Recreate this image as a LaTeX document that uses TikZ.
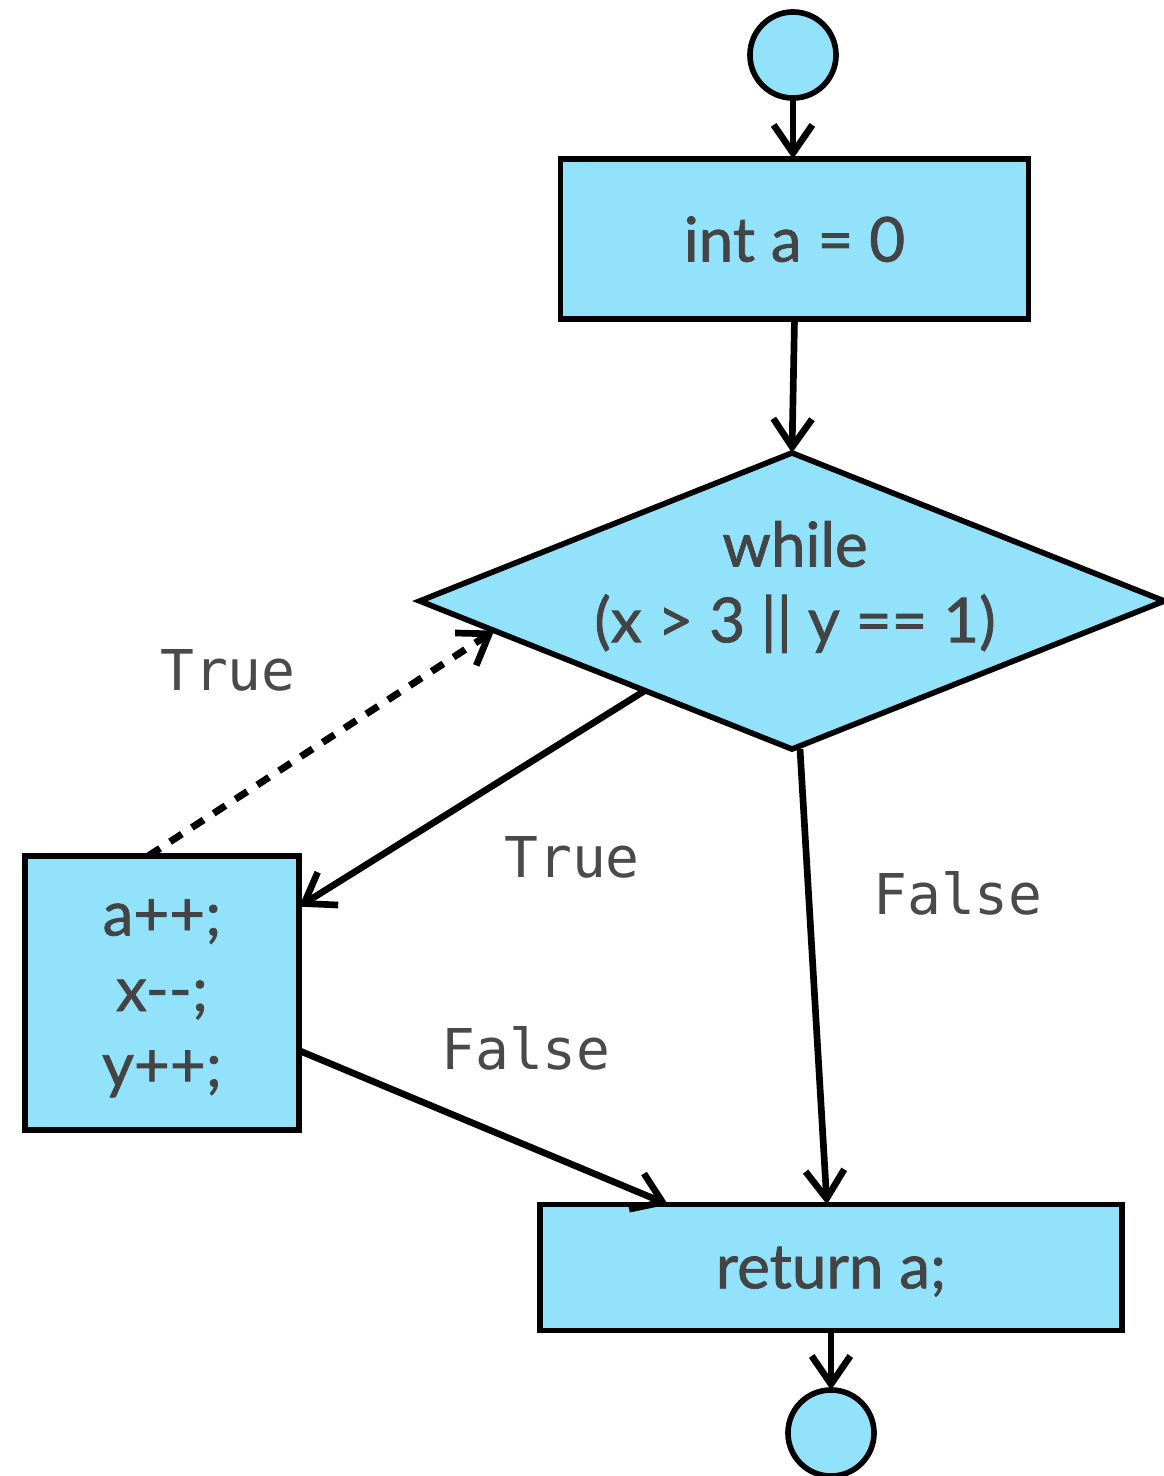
\documentclass[tikz,border=0pt]{standalone}
\usepackage{fontspec}
\setmainfont{Lato}
\setmonofont{DejaVu Sans Mono}
\newfontfamily\codefont{Lato}[FakeBold=1.2]
\usetikzlibrary{arrows.meta,shapes.geometric,calc}
\definecolor{boxfill}{HTML}{93E2FB}
\definecolor{ink}{HTML}{444444}
\definecolor{labelgray}{HTML}{4A4A4A}
\begin{document}
\begin{tikzpicture}[x=0.01cm,y=-0.01cm,
  every node/.style={inner sep=0pt,outer sep=0pt},
  code/.style={text=ink,font=\codefont\fontsize{17.6}{21.5}\selectfont,align=center},
  block/.style={draw=black,line width=1.6pt,fill=boxfill,rectangle,code,text depth=0pt},
  decision/.style={draw=black,line width=1.6pt,fill=boxfill,diamond,inner sep=0pt},
  terminal/.style={draw=black,line width=1.6pt,fill=boxfill,circle,minimum size=0.86cm},
  edgelabel/.style={text=labelgray,font=\ttfamily\fontsize{16}{18}\selectfont},
  flow/.style={line width=1.9pt,-{Straight Barb[length=8pt,width=11pt]}},
  loopback/.style={line width=2pt,dash pattern=on 0.14cm off 0.12cm,
    -{Straight Barb[length=8pt,width=11pt,line width=1.9pt]}},
]
\useasboundingbox (0,0) rectangle (1163,1476);
\fill[white] (0,0) rectangle (1163,1476);

% nodes
\node[terminal] (start) at (793,55) {};
\node[block,minimum width=4.68cm,minimum height=1.6cm] (init) at (794.5,239) {int a = 0};
\node[decision,minimum width=7.44cm,minimum height=2.96cm] (cond) at (792,601) {};
\node[code] (condtext) at (795,587) {while\\(x > 3 || y == 1)};
\node[block,minimum width=2.74cm,minimum height=2.74cm] (body) at (162,993) {a++;\\x-{}-;\\y++;};
\node[block,minimum width=5.82cm,minimum height=1.26cm] (ret) at (831,1267.5) {return a;};
\node[terminal] (stop) at (831,1433) {};

% edge labels
\node[edgelabel] (ltrue1) at (228,670) {True};
\node[edgelabel] (ltrue2) at (572,857) {True};
\node[edgelabel] (lfalse1) at (958,893) {False};
\node[edgelabel] (lfalse2) at (526,1048) {False};

% connectors
\draw[flow] (start.south) -- (start.south |- init.north);
\draw[flow] (init.south) -- (cond.north);
\draw[flow] ($(cond.west)!0.605!(cond.south)$) -- ($(body.north east)!0.185!(body.south east)$);
\draw[loopback] ($(body.north west)!0.45!(body.north east)$) -- ($(cond.west)!0.2!(cond.south)$);
\draw[flow] ($(body.north east)!0.71!(body.south east)$) -- ($(ret.north west)!0.22!(ret.north east)$);
\draw[flow] ($(cond.south)+(8,0)$) -- ($(ret.north west)!0.493!(ret.north east)$);
\draw[flow] (ret.south) -- (stop.north);
\end{tikzpicture}
\end{document}
